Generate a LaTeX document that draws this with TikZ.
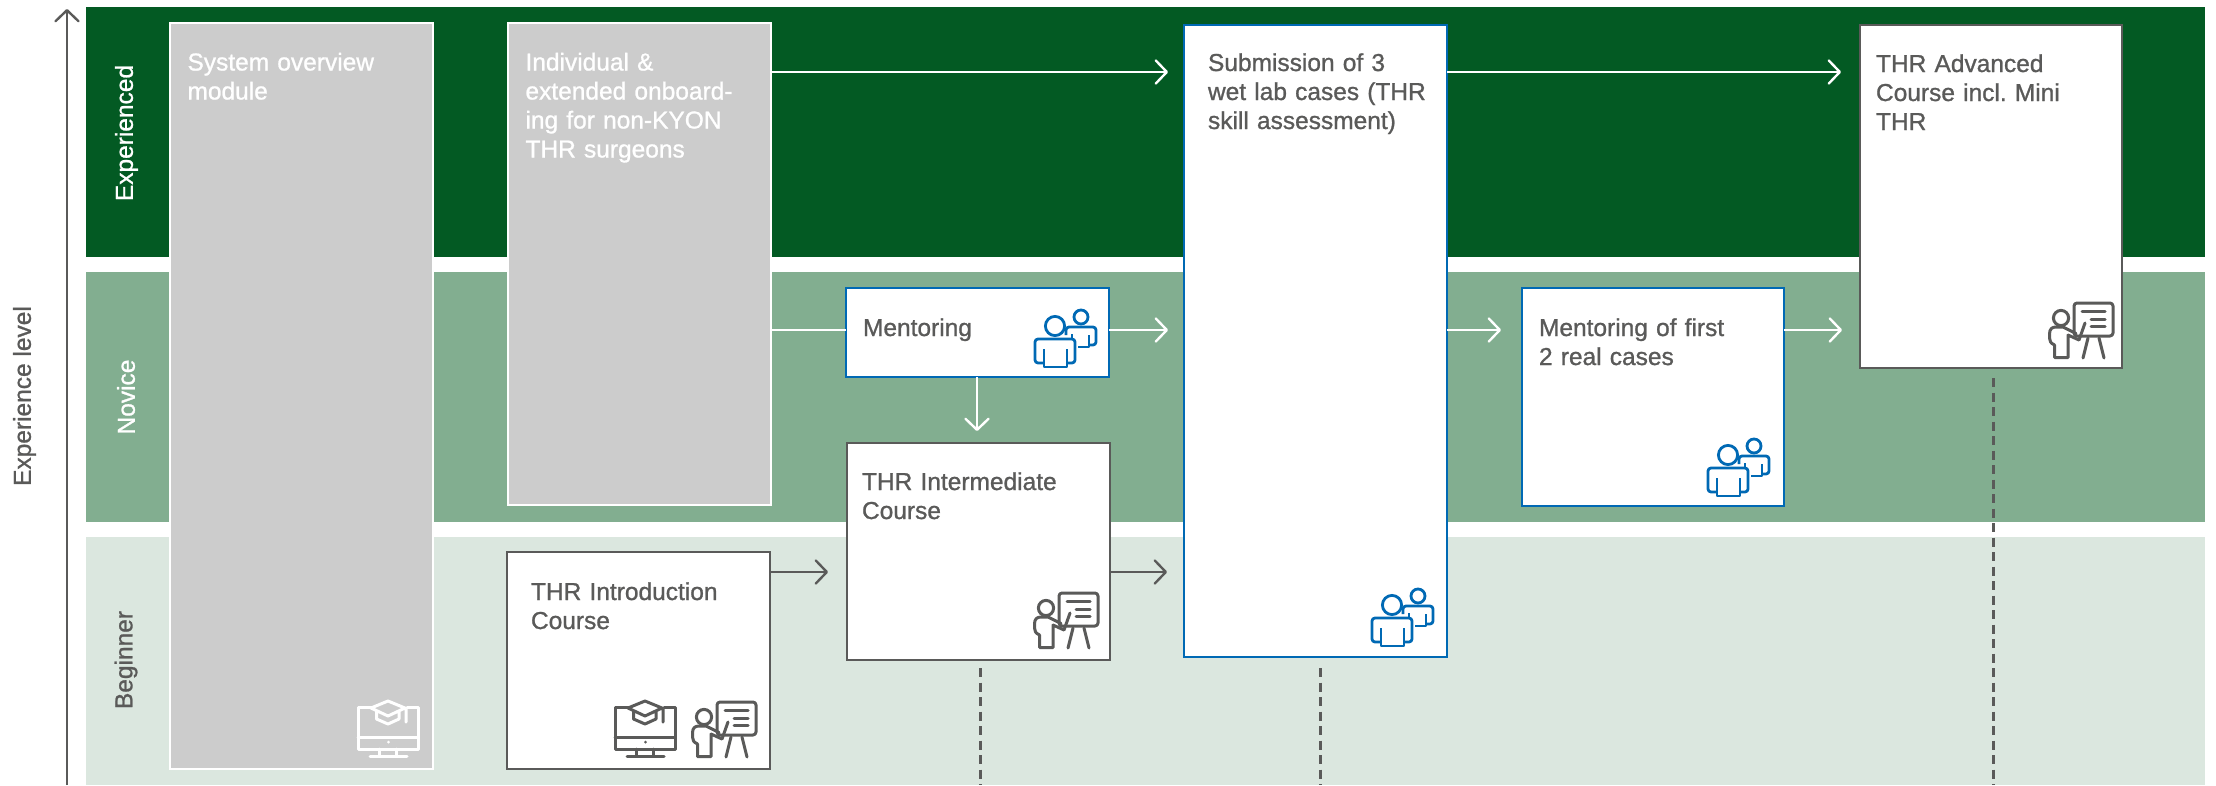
\documentclass[tikz,border=0pt]{standalone}
\usepackage{fontspec}
\setmainfont{Liberation Sans}[FakeBold=1.0]
\usetikzlibrary{arrows.meta}
\definecolor{bandA}{HTML}{035A23}
\definecolor{bandB}{HTML}{82AE90}
\definecolor{bandC}{HTML}{DBE7DF}
\definecolor{greybox}{HTML}{CCCCCC}
\definecolor{ink}{HTML}{5A5A59}
\definecolor{bluebox}{HTML}{0069B4}
\newcommand{\rb}[7]{\node[#1,minimum width=#5pt-#3pt,minimum height=#6pt-#4pt,anchor=north west] (#2) at (#3,#4) {};}
\newcommand{\fs}{\fontsize{24.5}{29}\selectfont\frenchspacing}
\newcommand{\fl}{\rule{0pt}{20pt}}
\tikzset{
  x=1pt,y=-1pt,
  band/.style={fill=#1,inner sep=0pt,outer sep=0pt,draw=none},
  gbox/.style={fill=greybox,draw=white,line width=2.6pt,inner sep=0pt,outer sep=0pt},
  wbox/.style={fill=white,draw=ink,line width=2.8pt,inner sep=0pt,outer sep=0pt},
  bbox/.style={fill=white,draw=bluebox,line width=2.8pt,inner sep=0pt,outer sep=0pt},
  txt/.style={anchor=north west,inner sep=0pt,outer sep=0pt,align=left,font=\fs,text=#1},
  lvl/.style={rotate=90,inner sep=0pt,font=\fs,text=#1},
  arw/.style={draw=#1,line width=2.4pt,-{Straight Barb[length=11pt,width=23pt,line width=2.4pt,round]}},
  lin/.style={draw=#1,line width=2.4pt},
  dsh/.style={draw=ink,line width=3pt,dash pattern=on 9pt off 5.5pt},
  presenter/.pic={
    \draw[pic actions,line width=3pt,line cap=round,line join=round,rounded corners=3pt] (25,0) rectangle (64,33);
    \draw[pic actions,line width=3pt,line cap=round] (33,8)--(56,8) (42,16)--(56,16) (42,23)--(56,23);
    \draw[pic actions,line width=3pt,line cap=round] (39,35)--(34,55) (50,35)--(55,55);
    \draw[pic actions,line width=3pt] (12,15) circle (7.6pt);
    \draw[pic actions,line width=3pt,line cap=round,line join=round] (5.5,54.5)--(5.5,42) .. controls (1.5,40) and (0.5,38) .. (0.5,35) -- (0.5,31) .. controls (0.5,26) and (3,24) .. (7,24) -- (14,24) -- (27,30.5) (19,32) -- (30,37) (19,32)--(19,54.5)--(5.5,54.5) (30,37)--(36,20);
  },
  people/.pic={
    \draw[pic actions,line width=2.8pt] (20,16) circle (9.6pt) (46,7) circle (7pt);
    \draw[pic actions,line width=2.8pt,line join=round,rounded corners=3pt] (9,53)--(0,53)--(0,29)--(40,29)--(40,53)--(32,53);
    \draw[pic actions,line width=2.8pt,line join=round] (9,39)--(9,57)--(32,57)--(32,39);
    \draw[pic actions,line width=2.8pt,line join=round,rounded corners=3pt] (31,25)--(31,17)--(61,17)--(61,35)--(54,35);
    \draw[pic actions,line width=2.8pt,line join=round] (54,25)--(54,37)--(43,37) (37,24)--(37,29);
  },
  monitor/.pic={
    \draw[pic actions,line width=3pt,line join=round,line cap=round] (16,7)--(0,7)--(0,49)--(60,49)--(60,7)--(49,7) (0,37)--(60,37) (21,49)--(21,56) (38,49)--(38,56) (12,56)--(49,56) (30,42)--(30,42.2);
    \draw[pic actions,line width=3pt,line join=round,line cap=round] (30,1)--(13,8)--(30,16)--(47,8)--cycle (18.5,11)--(18.5,19)--(30,24)--(41,19)--(41,11) (48,9)--(48,22);
  }
}
\begin{document}
\begin{tikzpicture}
\useasboundingbox (0,0) rectangle (2216,785);
% bands
\rb{band=bandA}{ba}{86}{7}{2205}{257}{}
\rb{band=bandB}{bb}{86}{272}{2205}{522}{}
\rb{band=bandC}{bc}{86}{537}{2205}{785}{}
% axis
\coordinate (ax0) at (67,785);
\coordinate (ax1) at (67,9);
\draw[arw=ink] (ax0) -- (ax1);
\node[lvl=ink] (lx) at (24.5,396) {Experience level};
\node[lvl=white] (l1) at (126.5,133) {Experienced};
\node[lvl=white] (l2) at (126,397) {Novice};
\node[lvl=ink] (l3) at (126,660) {Beginner};
% dashed
\rb{wbox}{intm}{847}{443}{1110}{660}{}
\rb{bbox}{sub}{1184}{25}{1447}{657}{}
\rb{wbox}{adv}{1860}{25}{2122}{368}{}
\coordinate (d1) at (980,785);
\coordinate (d2) at (1320,785);
\coordinate (d3) at (1993,785);
\draw[dsh] ([yshift=-8pt]intm.south -| d1) -- (d1);
\draw[dsh] ([yshift=-11pt]sub.south -| d2) -- (d2);
\draw[dsh] ([yshift=-10pt]adv.south -| d3) -- (d3);
% boxes
\rb{gbox}{sys}{170}{23}{433}{769}{}
\rb{gbox}{ind}{508}{23}{771}{505}{}
\rb{bbox}{men}{846}{288}{1109}{377}{}
\rb{bbox}{mfr}{1522}{288}{1784}{506}{}
\rb{wbox}{intr}{507}{552}{770}{769}{}
% texts
\node[txt=white,text width=240pt] (t1) at (187.5,50.5) {\fl System overview\\module};
\node[txt=white,text width=240pt] (t2) at (525.5,50.5) {\fl Individual \&\\extended onboard-\\ing for non-KYON\\THR surgeons};
\node[txt=ink,text width=240pt] (t3) at (863,316) {\fl Mentoring};
\node[txt=ink,text width=240pt] (t4) at (862,470) {\fl THR Intermediate\\Course};
\node[txt=ink,text width=240pt] (t5) at (531,580) {\fl THR Introduction\\Course};
\node[txt=ink,text width=240pt] (t6) at (1208,51) {\fl Submission of 3\\wet lab cases (THR\\skill assessment)};
\node[txt=ink,text width=240pt] (t7) at (1539,316) {\fl Mentoring of first\\2 real cases};
\node[txt=ink,text width=240pt] (t8) at (1876,52) {\fl THR Advanced\\Course incl. Mini\\THR};
% icons
\pic[draw=white] at (358,700) {monitor};
\pic[draw=ink] at (615,700) {monitor};
\pic[draw=ink] at (692,702) {presenter};
\pic[draw=ink] at (1034,593) {presenter};
\pic[draw=ink] at (2049,303) {presenter};
\pic[draw=bluebox] at (1035,310) {people};
\pic[draw=bluebox] at (1708,439) {people};
\pic[draw=bluebox] at (1372,589) {people};
% connectors
\coordinate (e1) at (1168,72);
\coordinate (e2) at (1841,72);
\coordinate (e3) at (1168,330);
\coordinate (e4) at (1501,330);
\coordinate (e5) at (1842,330);
\coordinate (e6) at (828,572);
\coordinate (e7) at (1167,572);
\coordinate (e8) at (977,431);
\draw[arw=white] (ind.east |- e1) -- (e1);
\draw[arw=white] (sub.east |- e2) -- (e2);
\draw[lin=white] (ind.east |- e3) -- (men.west |- e3);
\draw[arw=white] (men.east |- e3) -- (e3);
\draw[arw=white] (sub.east |- e4) -- (e4);
\draw[arw=white] (mfr.east |- e5) -- (e5);
\draw[arw=white] (men.south -| e8) -- (e8);
\draw[arw=ink] (intr.east |- e6) -- (e6);
\draw[arw=ink] (intm.east |- e7) -- (e7);
\end{tikzpicture}
\end{document}
